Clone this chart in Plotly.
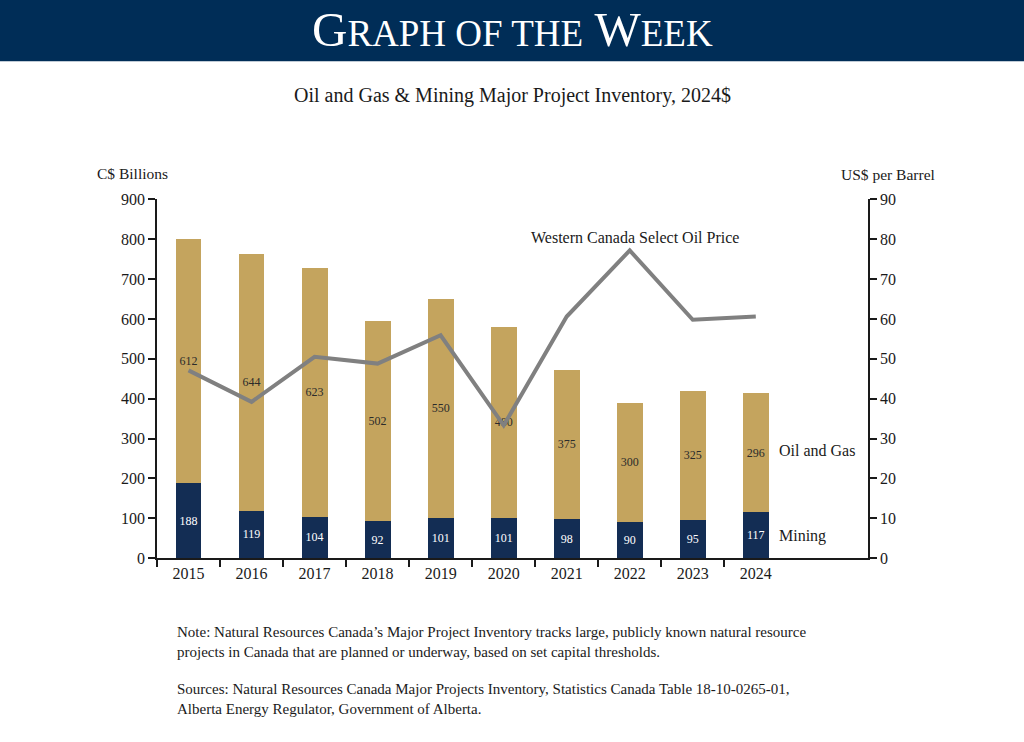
import plotly.graph_objects as go

# data
years = ["2015", "2016", "2017", "2018", "2019", "2020", "2021", "2022", "2023", "2024"]
mining = [188, 119, 104, 92, 101, 101, 98, 90, 95, 117]
oil_gas = [612, 644, 623, 502, 550, 480, 375, 300, 325, 296]
wcs_price = [47.1, 39.2, 50.5, 48.8, 55.9, 33.3, 60.6, 77.2, 59.8, 60.6]

W = 1024
# the captured page comes out ~2% squashed vertically, so draw a bit taller
VSCALE = 1.0225
H = 759
NAVY = "#002d57"
BAR_NAVY = "#132d54"
GOLD = "#c4a45e"
GREY = "#808080"
INK = "#1a1a1a"
SERIF = "Liberation Serif, Times New Roman, serif"

idx = list(range(len(years)))


def px(x):
    return x / W


def py(y):
    # target pixel row in the 742-high picture -> paper y
    return 1 - (y * VSCALE + 0.4) / H


fig = go.Figure()

fig.add_trace(go.Bar(
    x=idx, y=mining, name="Mining", width=0.41,
    marker=dict(color=BAR_NAVY, line=dict(width=0)),
    text=mining, textposition="inside", insidetextanchor="middle",
    textangle=0, constraintext="none",
    textfont=dict(family=SERIF, size=12, color="white"),
))
fig.add_trace(go.Bar(
    x=idx, y=oil_gas, name="Oil and Gas", width=0.41,
    marker=dict(color=GOLD, line=dict(width=0)),
    text=oil_gas, textposition="inside", insidetextanchor="middle",
    textangle=0, constraintext="none",
    textfont=dict(family=SERIF, size=12, color="#2b2b2b"),
))
fig.add_trace(go.Scatter(
    x=idx, y=wcs_price, yaxis="y2", mode="lines",
    line=dict(color=GREY, width=4), name="Western Canada Select Oil Price",
))

axis_common = dict(
    showgrid=False, zeroline=False, showline=True,
    linecolor=INK, linewidth=1.5,
    ticks="outside", ticklen=7, tickwidth=1.5, tickcolor=INK,
    tickfont=dict(family=SERIF, size=16, color=INK),
)

fig.update_layout(
    width=W, height=H,
    margin=dict(l=0, r=0, t=0, b=0),
    paper_bgcolor="white", plot_bgcolor="white",
    barmode="stack", showlegend=False,
    xaxis=dict(
        **{k: v for k, v in axis_common.items() if k not in ("ticks", "ticklen")},
        domain=[px(157), px(868)],
        range=[-0.5, 10.78],
        tickmode="array", tickvals=idx, ticktext=years, ticks="",
        minor=dict(tickmode="array", tickvals=[i - 0.5 for i in idx],
                   ticks="outside", ticklen=7, tickwidth=1.5, tickcolor=INK),
    ),
    yaxis=dict(
        **axis_common,
        domain=[py(558), py(199)],
        range=[0, 900], dtick=100,
    ),
    yaxis2=dict(
        **axis_common,
        overlaying="y", side="right", anchor="x",
        range=[0, 90], dtick=10,
    ),
    shapes=[dict(type="rect", xref="paper", yref="paper",
                 x0=0, x1=1, y0=py(61), y1=1,
                 fillcolor=NAVY, line=dict(width=0), layer="below")],
)

ann = [
    dict(x=0.5, y=py(29),
         text="G<span style='font-size:37px'>RAPH OF THE</span> W<span style='font-size:37px'>EEK</span>",
         font=dict(family=SERIF, size=49, color="white")),
    dict(x=0.5, y=py(95), text="Oil and Gas &amp; Mining Major Project Inventory, 2024$",
         font=dict(family=SERIF, size=20, color=INK)),
    dict(x=px(95), y=py(173), xanchor="left", text="C$ Billions",
         font=dict(family=SERIF, size=15.5, color=INK)),
    dict(x=px(937), y=py(174), xanchor="right", text="US$ per Barrel",
         font=dict(family=SERIF, size=15.5, color=INK)),
    dict(x=px(635), y=py(237), text="Western Canada Select Oil Price",
         font=dict(family=SERIF, size=16, color=INK)),
    dict(x=px(777), y=py(450), xanchor="left", text="Oil and Gas",
         font=dict(family=SERIF, size=16, color=INK)),
    dict(x=px(777), y=py(536), xanchor="left", text="Mining",
         font=dict(family=SERIF, size=16, color=INK)),
    dict(x=px(175), y=py(642), xanchor="left", align="left",
         text="Note: Natural Resources Canada’s Major Project Inventory tracks large, publicly known natural resource<br>"
              "projects in Canada that are planned or underway, based on set capital thresholds.",
         font=dict(family=SERIF, size=15, color=INK)),
    dict(x=px(175), y=py(699), xanchor="left", align="left",
         text="Sources: Natural Resources Canada Major Projects Inventory, Statistics Canada Table 18-10-0265-01,<br>"
              "Alberta Energy Regulator, Government of Alberta.",
         font=dict(family=SERIF, size=15, color=INK)),
]
for a in ann:
    a.setdefault("xref", "paper")
    a.setdefault("yref", "paper")
    a.setdefault("showarrow", False)
    a.setdefault("yanchor", "middle")
    a.setdefault("xanchor", "center")
    fig.add_annotation(**a)

# pin the figure to the window corner so the page never grows past the window
page_js = (
    "document.documentElement.style.margin='0';"
    "document.body.style.margin='0';"
    "document.body.style.padding='0';"
    "var gd=document.querySelector('.plotly-graph-div');"
    "gd.style.position='fixed';gd.style.top='-8px';gd.style.left='0';"
)
fig.write_html("out.html", post_script=page_js,
               config={"displayModeBar": False})
